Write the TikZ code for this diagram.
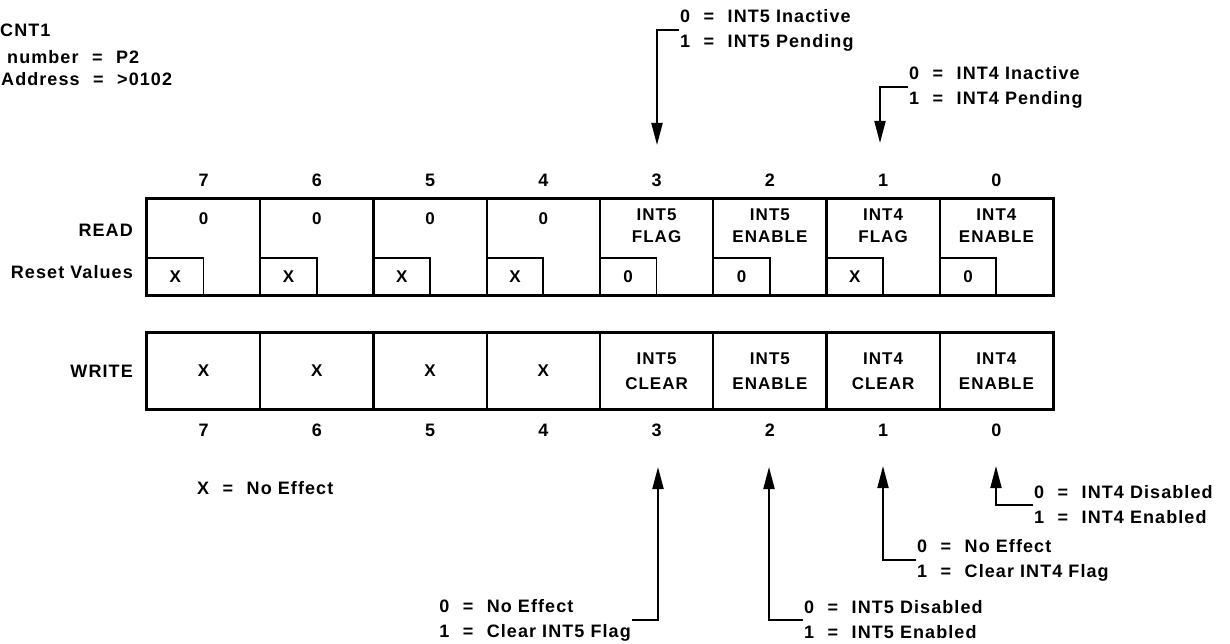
\documentclass[tikz,border=0pt]{standalone}
\usepackage{fontspec}
\setmainfont{Liberation Sans}[LetterSpace=6]
\usetikzlibrary{arrows.meta}

\newcommand{\iseq}{\hspace{0.75em}=\hspace{0.75em}}

\tikzset{
    regcell/.style={draw, line width=2pt, minimum width=113.25pt, minimum height=96pt},
    wrcell/.style={draw, line width=2pt, minimum width=113.25pt, minimum height=76pt, align=center, font=\fontsize{17}{25}\selectfont\bfseries},
    celltext/.style={align=center, font=\fontsize{17}{22}\selectfont\bfseries},
    resetbox/.style={draw, line width=1.8pt, minimum width=56.6pt, minimum height=37pt, anchor=south west},
    pointer/.style={line width=2pt, -{Triangle[length=22pt, width=11pt]}},
    note/.style={align=left, inner sep=1pt, font=\fontsize{18}{25}\selectfont\bfseries},
}

\begin{document}
\begin{tikzpicture}[x=1pt, y=-1pt, inner sep=0pt, font=\fontsize{18}{22}\selectfont\bfseries]
    \useasboundingbox (0,0) rectangle (1230,644);

    % register name
    \node[anchor=west] (regname) at (0,30) {CNT1};
    \node[anchor=west] (regnum) at (7,57) {number\iseq P2};
    \node[anchor=west] (regaddr) at (1,79) {Address\iseq >0102};

    % read side
    \node (rb7) at (203.6,180) {7};
    \node (rb6) at (316.9,180) {6};
    \node (rb5) at (430.1,180) {5};
    \node (rb4) at (543.4,180) {4};
    \node (rb3) at (656.6,180) {3};
    \node (rb2) at (769.9,180) {2};
    \node (rb1) at (883.1,180) {1};
    \node (rb0) at (996.4,180) {0};

    \node[regcell] (r7) at (203.6,247) {};
    \node[regcell] (r6) at (316.9,247) {};
    \node[regcell] (r5) at (430.1,247) {};
    \node[regcell] (r4) at (543.4,247) {};
    \node[regcell] (r3) at (656.6,247) {};
    \node[regcell] (r2) at (769.9,247) {};
    \node[regcell] (r1) at (883.1,247) {};
    \node[regcell] (r0) at (996.4,247) {};
    \draw[line width=2.8pt] (r7.north west) rectangle (r0.south east);

    \node[celltext] (rv7) at (203.6,219) {0};
    \node[celltext] (rv6) at (316.9,219) {0};
    \node[celltext] (rv5) at (430.1,219) {0};
    \node[celltext] (rv4) at (543.4,219) {0};
    \node[celltext] (rv3) at (656.6,226) {INT5\\FLAG};
    \node[celltext] (rv2) at (769.9,226) {INT5\\ENABLE};
    \node[celltext] (rv1) at (883.1,226) {INT4\\FLAG};
    \node[celltext] (rv0) at (996.4,226) {INT4\\ENABLE};

    \node[resetbox, celltext] (s7) at (r7.south west) {X};
    \node[resetbox, celltext] (s6) at (r6.south west) {X};
    \node[resetbox, celltext] (s5) at (r5.south west) {X};
    \node[resetbox, celltext] (s4) at (r4.south west) {X};
    \node[resetbox, celltext] (s3) at (r3.south west) {0};
    \node[resetbox, celltext] (s2) at (r2.south west) {0};
    \node[resetbox, celltext] (s1) at (r1.south west) {X};
    \node[resetbox, celltext] (s0) at (r0.south west) {0};

    \node[anchor=east] (readlbl) at (133,230) {READ};
    \node[anchor=east] (resetlbl) at (133,272) {Reset Values};

    % write side
    \node[wrcell] (w7) at (203.6,371) {X};
    \node[wrcell] (w6) at (316.9,371) {X};
    \node[wrcell] (w5) at (430.1,371) {X};
    \node[wrcell] (w4) at (543.4,371) {X};
    \node[wrcell] (w3) at (656.6,371) {INT5\\CLEAR};
    \node[wrcell] (w2) at (769.9,371) {INT5\\ENABLE};
    \node[wrcell] (w1) at (883.1,371) {INT4\\CLEAR};
    \node[wrcell] (w0) at (996.4,371) {INT4\\ENABLE};
    \draw[line width=2.8pt] (w7.north west) rectangle (w0.south east);

    \node (wb7) at (203.6,430) {7};
    \node (wb6) at (316.9,430) {6};
    \node (wb5) at (430.1,430) {5};
    \node (wb4) at (543.4,430) {4};
    \node (wb3) at (656.6,430) {3};
    \node (wb2) at (769.9,430) {2};
    \node (wb1) at (883.1,430) {1};
    \node (wb0) at (996.4,430) {0};

    \node[anchor=east] (writelbl) at (133,371) {WRITE};
    \node[anchor=west] (noeff) at (197,488) {X\iseq No Effect};

    % read bit notes
    \node[note, anchor=west] (p5) at (679,30) {0\iseq INT5 Inactive\\1\iseq INT5 Pending};
    \node[note, anchor=west] (p4) at (908,87) {0\iseq INT4 Inactive\\1\iseq INT4 Pending};
    \coordinate (p5tip) at (657,145);
    \coordinate (p4tip) at (880,143);
    \draw[pointer] (p5.west) -| (p5tip);
    \draw[pointer] (p4.west) -| (p4tip);

    % write bit notes
    \node[note, anchor=east] (c5) at (632,620) {0\iseq No Effect\\1\iseq Clear INT5 Flag};
    \node[note, anchor=west] (e5) at (803,620) {0\iseq INT5 Disabled\\1\iseq INT5 Enabled};
    \node[note, anchor=west] (c4) at (916,560) {0\iseq No Effect\\1\iseq Clear INT4 Flag};
    \node[note, anchor=west] (e4) at (1033,505) {0\iseq INT4 Disabled\\1\iseq INT4 Enabled};
    \coordinate (c5tip) at (658,467);
    \coordinate (e5tip) at (769,467);
    \coordinate (c4tip) at (883,466);
    \coordinate (e4tip) at (996,466);
    \draw[pointer] (c5.east) -| (c5tip);
    \draw[pointer] (e5.west) -| (e5tip);
    \draw[pointer] (c4.west) -| (c4tip);
    \draw[pointer] (e4.west) -| (e4tip);
\end{tikzpicture}
\end{document}
